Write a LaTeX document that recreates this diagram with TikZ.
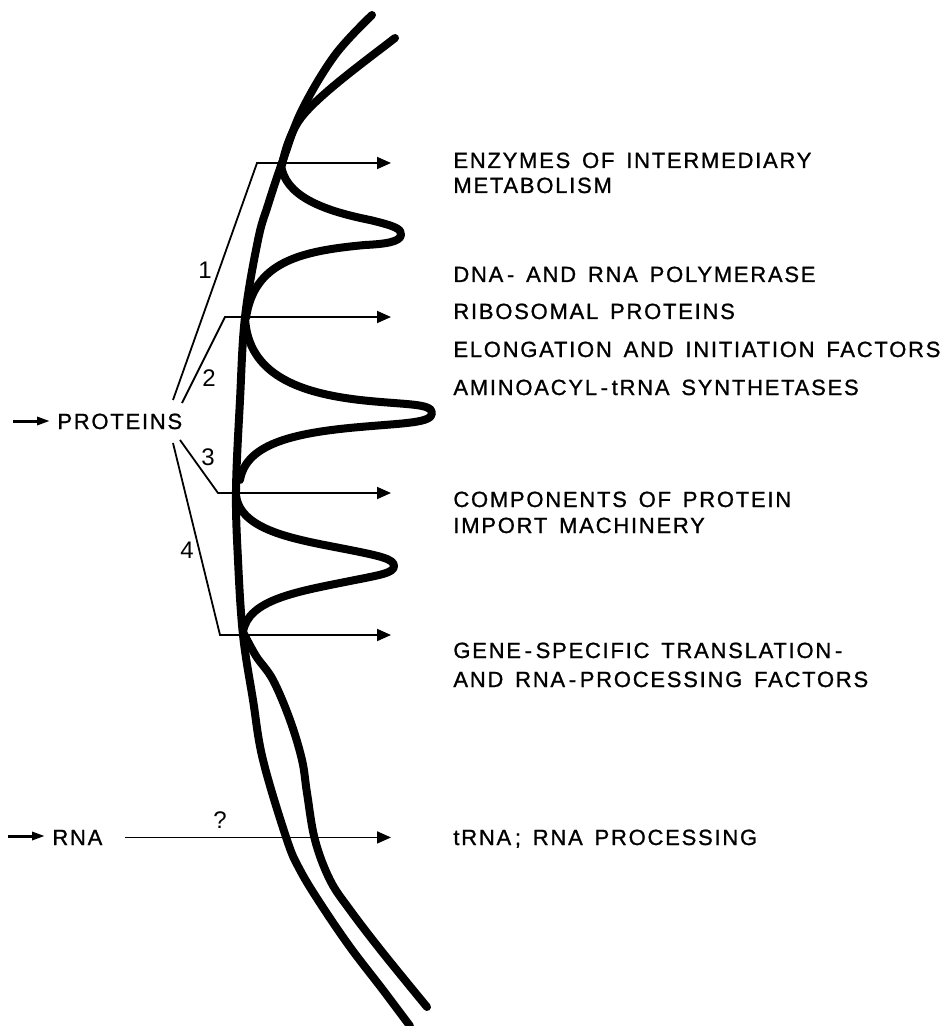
\documentclass[tikz,border=0pt]{standalone}
\usepackage{fontspec}
\setmainfont{Liberation Sans}
\newfontfamily\capsfont[LetterSpace=8,WordSpace=1.5,FakeBold=1]{Liberation Sans}
\usetikzlibrary{arrows.meta}
\tikzstyle{membrane} = [
    line width=4pt,
    line cap=round,
    line join=round
]
\tikzstyle{bracket} = [
    line width=0.9pt
]
\tikzstyle{arrow} = [
    bracket,
    -{Triangle[length=7pt,width=6pt]},
    shorten >=31pt
]
\tikzstyle{inarrow} = [
    line width=1.5pt,
    -{Triangle[length=6.5pt,width=4pt]},
    shorten >=3.5pt
]
\tikzstyle{txt} = [
    anchor=base west,
    inner sep=0pt,
    font=\capsfont\fontsize{11}{13}\selectfont
]
\tikzstyle{num} = [
    inner sep=0pt,
    font=\fontsize{12}{14}\selectfont
]

\begin{document}
\begin{tikzpicture}[x=0.5pt, y=-0.5pt]
        \useasboundingbox (0,0) rectangle (950,1026);

        % Outer membrane
        \draw[membrane] plot[smooth, tension=0.6] coordinates {(372,15) (335,55) (302,110) (283,160) (268,205) (258,240) (245,317) (240,400) (236,490) (238,560) (243,635) (253,700) (263,760) (287,840) (300,870) (320,903) (350,947) (383,990) (410,1026)};

        % Inner membrane, top part
        \draw[membrane] (395,38) .. controls (360,65) and (312,100) .. (298,122) .. controls (290,135) and (285,150) .. (282,165);

        % Cristae
        \draw[membrane] (281,165) .. controls (285,195) and (320,210) .. (370,220) .. controls (395,226) and (402,229) .. (401,235) .. controls (400,242) and (385,244) .. (365,245) .. controls (300,251) and (254,262) .. (246,318);
        \draw[membrane] (245,318) .. controls (248,375) and (300,393) .. (360,400) .. controls (405,405) and (432,403) .. (432,413) .. controls (432,423) and (405,423) .. (360,427) .. controls (290,433) and (246,445) .. (240,480);
        \draw[membrane] (236,495) .. controls (240,532) and (300,540) .. (350,550) .. controls (380,556) and (394,559) .. (394,566) .. controls (394,573) and (380,575) .. (350,581) .. controls (295,592) and (248,600) .. (243,632);

        % Inner membrane, bottom part
        \draw[membrane] plot[smooth, tension=0.6] coordinates {(243,632) (256,656) (273,680) (290,720) (302,760) (307,793) (315,840) (330,880) (350,910) (383,953) (427,1007)};

        % Sources
        \node[txt] (prot) at (57,429) {PROTEINS};
        \node[txt] (rna) at (52,845) {RNA};
        \coordinate (protin) at (13,421);
        \coordinate (rnain) at (8,836);
        \draw[inarrow] (protin) -- (protin -| prot.west);
        \draw[inarrow] (rnain) -- (rnain -| rna.west);

        % Products
        \node[txt] (enz) at (453,168) {ENZYMES OF INTERMEDIARY};
        \node[txt] (met) at (453,193) {METABOLISM};
        \node[txt] (pol) at (453,282) {DNA\,-\ AND RNA POLYMERASE};
        \node[txt] (rib) at (453,319) {RIBOSOMAL PROTEINS};
        \node[txt] (elo) at (453,357) {ELONGATION AND INITIATION FACTORS};
        \node[txt] (ami) at (453,395) {AMINOACYL\,-\,tRNA SYNTHETASES};
        \node[txt] (imp) at (453,507) {COMPONENTS OF PROTEIN};
        \node[txt] (mac) at (453,533) {IMPORT MACHINERY};
        \node[txt] (gen) at (453,658) {GENE\,-\,SPECIFIC TRANSLATION\,-};
        \node[txt] (fac) at (453,687) {AND RNA\,-\,PROCESSING FACTORS};
        \node[txt] (trna) at (453,845) {tRNA\,; RNA PROCESSING};

        % Routes
        \coordinate (b1) at (173,400);
        \coordinate (b2) at (182,403);
        \coordinate (b3) at (180,440);
        \coordinate (b4) at (173,443);
        \coordinate (c1) at (257,163);
        \coordinate (c2) at (225,317);
        \coordinate (c3) at (218,493);
        \coordinate (c4) at (220,635);
        \draw[arrow] (b1) -- (c1) -- (c1 -| enz.west);
        \draw[arrow] (b2) -- (c2) -- (c2 -| rib.west);
        \draw[arrow] (b3) -- (c3) -- (c3 -| imp.west);
        \draw[arrow] (b4) -- (c4) -- (c4 -| gen.west);
        \draw[arrow, shorten <=11pt] (rna.east) -- (rna.east -| trna.west);

        % Numbers
        \node[num] (n1) at (205,270) {1};
        \node[num] (n2) at (209,378) {2};
        \node[num] (n3) at (208,457) {3};
        \node[num] (n4) at (187,550) {4};
        \node[num] (q) at (220,820) {?};
    \end{tikzpicture}
\end{document}
